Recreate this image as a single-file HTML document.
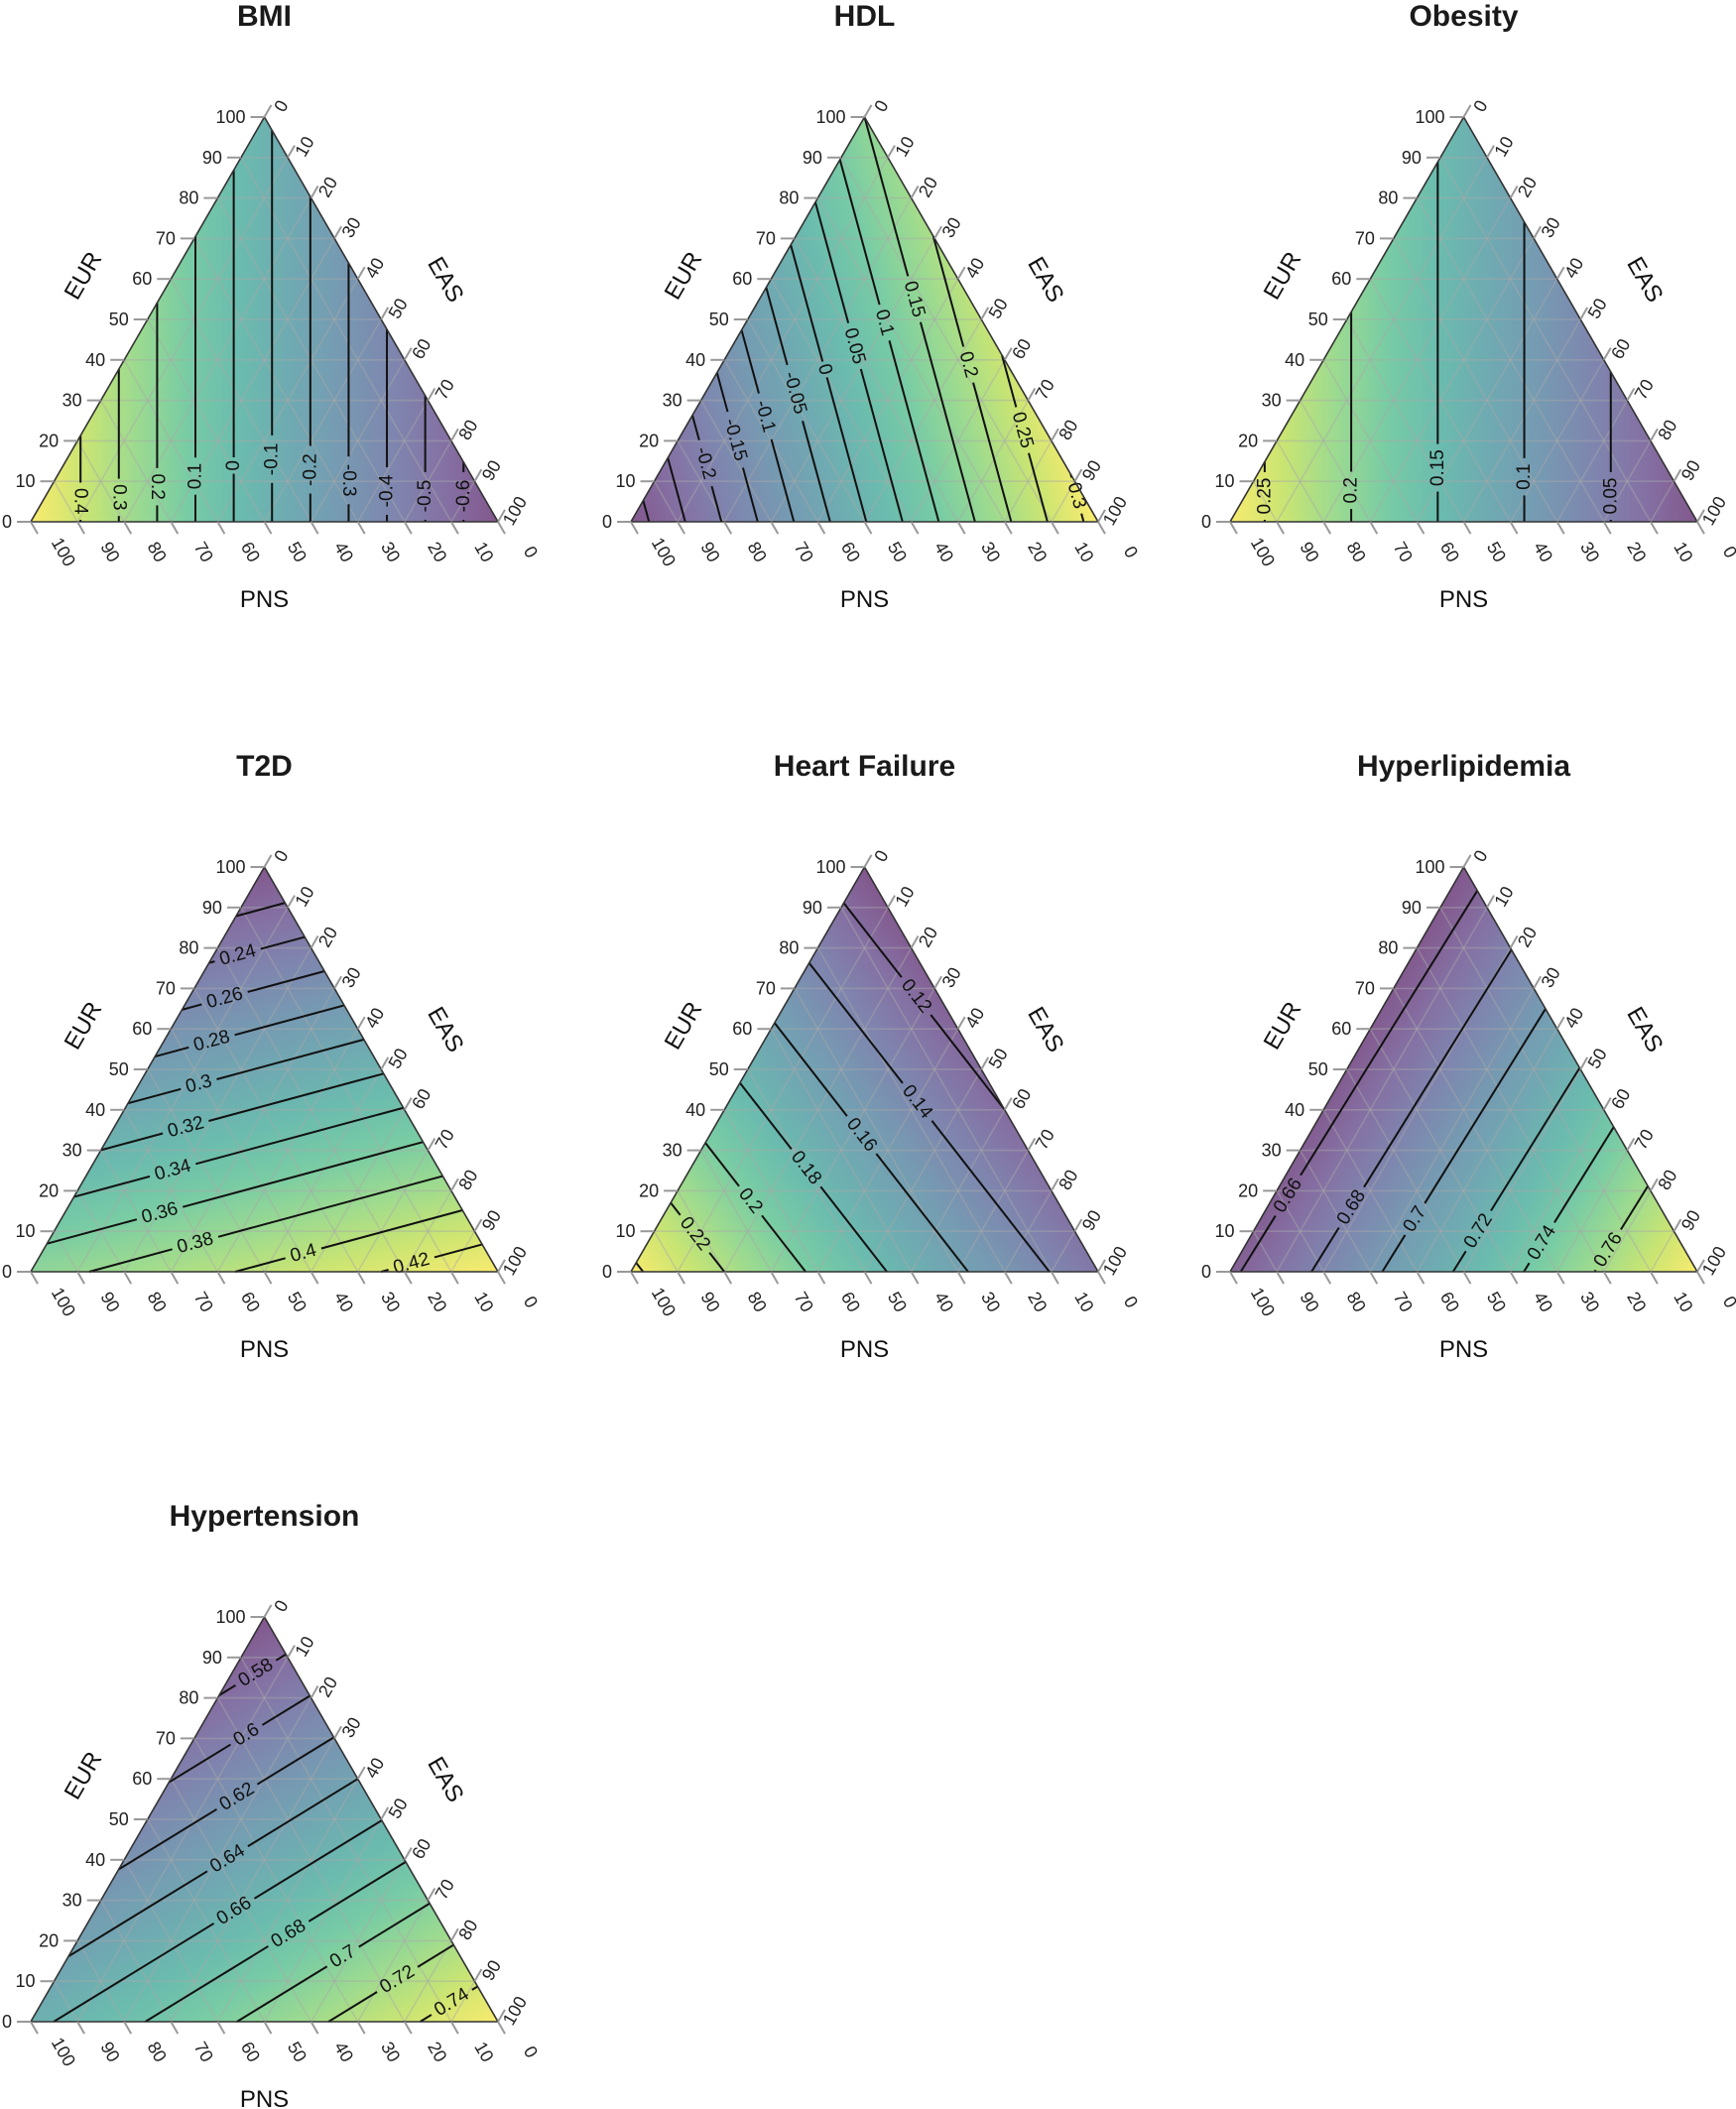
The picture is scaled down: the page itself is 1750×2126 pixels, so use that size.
<!DOCTYPE html>
<html><head><meta charset="utf-8">
<style>
html,body{margin:0;padding:0;background:#fff;}
svg{display:block;font-family:"Liberation Sans",Arial,sans-serif;}
</style></head>
<body>
<svg id="chart" width="1750" height="2126" viewBox="0 0 1750 2126" xmlns="http://www.w3.org/2000/svg"></svg>
<script>
// ---- data ----
const titles = ["BMI","HDL","Obesity","T2D","Heart Failure","Hyperlipidemia","Hypertension"];
// field value at the EUR (top), PNS (bottom-left), EAS (bottom-right) vertices
const valEUR = [-0.08, 0.15, 0.135, 0.199, 0.108, 0.652, 0.562];
const valPNS = [0.53, -0.325, 0.27, 0.372, 0.243, 0.657, 0.655];
const valEAS = [-0.69, 0.32, 0.0, 0.436, 0.128, 0.789, 0.757];
const levelsBMI = [0.4,0.3,0.2,0.1,0,-0.1,-0.2,-0.3,-0.4,-0.5,-0.6];
const levelsHDL = [-0.3,-0.25,-0.2,-0.15,-0.1,-0.05,0,0.05,0.1,0.15,0.2,0.25,0.3];
const levelsObesity = [0.25,0.2,0.15,0.1,0.05];
const levelsT2D = [0.22,0.24,0.26,0.28,0.3,0.32,0.34,0.36,0.38,0.4,0.42];
const levelsHF = [0.12,0.14,0.16,0.18,0.2,0.22,0.24];
const levelsHyperlip = [0.66,0.68,0.7,0.72,0.74,0.76];
const levelsHypert = [0.58,0.6,0.62,0.64,0.66,0.68,0.7,0.72,0.74];
const levelLabels = [
  ["0.4","0.3","0.2","0.1","0","-0.1","-0.2","-0.3","-0.4","-0.5","-0.6"],
  ["","","-0.2","-0.15","-0.1","-0.05","0","0.05","0.1","0.15","0.2","0.25","0.3"],
  ["0.25","0.2","0.15","0.1","0.05"],
  ["0.22","0.24","0.26","0.28","0.3","0.32","0.34","0.36","0.38","0.4","0.42"],
  ["0.12","0.14","0.16","0.18","0.2","0.22",""],
  ["0.66","0.68","0.7","0.72","0.74","0.76"],
  ["0.58","0.6","0.62","0.64","0.66","0.68","0.7","0.72","0.74"]
];
const allLevels = [levelsBMI,levelsHDL,levelsObesity,levelsT2D,levelsHF,levelsHyperlip,levelsHypert];
const tickValues = [0,10,20,30,40,50,60,70,80,90,100];

// ---- layout ----
const W = 471, H = 408;
const colX = [31, 636, 1240], rowBase = [526, 1282, 2038];
const labelT = [0.16, 0.55, 0.15, 0.3, 0.45, 0.2, 0.55];
const viridis = ["#440154","#482878","#3e4989","#31688e","#26828e","#1f9e89","#35b779","#6ece58","#b5de2b","#fde725"];
const NS = "http://www.w3.org/2000/svg";
const svg = document.getElementById("chart");
const defs = document.createElementNS(NS,"defs");
svg.appendChild(defs);
function mk(tag, attrs, parent){
  const e = document.createElementNS(NS, tag);
  for (const k in attrs) e.setAttribute(k, attrs[k]);
  (parent||svg).appendChild(e);
  return e;
}

titles.forEach((title, i) => {
  const x0 = colX[i % 3], y0 = rowBase[Math.floor(i / 3)];
  const L = [x0, y0], R = [x0 + W, y0], T = [x0 + W/2, y0 - H];
  const vT = valEUR[i], vL = valPNS[i], vR = valEAS[i];
  const g = mk("g", {});
  
  

  const tt = mk("text", {x: x0 + W/2, y: y0 - H - 92, "text-anchor": "middle", "font-size": 30, "font-weight": "bold", fill: "#1a1a1a"}, g);
  tt.textContent = title;
  
  

  // gradient
  const gx = (vR - vL) / W;
  const gy = (vL + gx * W/2 - vT) / H;
  const g2 = gx*gx + gy*gy;
  const fmin = Math.min(vT, vL, vR), fmax = Math.max(vT, vL, vR);
  const p1 = [L[0] + gx*(fmin - vL)/g2, L[1] + gy*(fmin - vL)/g2];
  const p2 = [L[0] + gx*(fmax - vL)/g2, L[1] + gy*(fmax - vL)/g2];
  const grad = mk("linearGradient", {id: "grad" + i, gradientUnits: "userSpaceOnUse", x1: p1[0], y1: p1[1], x2: p2[0], y2: p2[1]}, defs);
  viridis.forEach((c, k) => mk("stop", {offset: k/(viridis.length-1), "stop-color": c, "stop-opacity": 0.64}, grad));
  mk("polygon", {points: [L, R, T].map(p => p.join(",")).join(" "), fill: "#8a8a8a", "fill-opacity": 0.12}, g);
  const tri = mk("polygon", {points: [L, R, T].map(p => p.join(",")).join(" "), fill: "url(#grad" + i + ")"}, g);
  
  

  // grid lines
  const bary = (e, p, s) => [L[0]*p + R[0]*s + T[0]*e, L[1]*p + R[1]*s + T[1]*e];
  for (let k = 1; k < 10; k++) {
    const f = k / 10;
    [[bary(f,1-f,0), bary(f,0,1-f)], [bary(0,f,1-f), bary(1-f,f,0)], [bary(0,1-f,f), bary(1-f,0,f)]].forEach(seg => {
      const gl = mk("line", {x1: seg[0][0], y1: seg[0][1], x2: seg[1][0], y2: seg[1][1], stroke: "#a8a8a8", "stroke-opacity": 0.45, "stroke-width": 1.6}, g);
      
      
    });
  }

  // contours
  const levels = allLevels[i];
  const verts = [[L, vL], [R, vR], [T, vT]];
  levels.forEach((lv, j) => {
    const pts = [];
    for (let a = 0; a < 3; a++) {
      const A = verts[a], B = verts[(a+1)%3];
      const d = B[1] - A[1];
      if (Math.abs(d) < 1e-12) continue;
      const t = (lv - A[1]) / d;
      if (t >= -1e-9 && t <= 1 + 1e-9) pts.push([A[0][0] + t*(B[0][0]-A[0][0]), A[0][1] + t*(B[0][1]-A[0][1])]);
    }
    if (pts.length < 2) return;
    let a = pts[0], b = pts[1];
    const vertical = Math.abs(a[0]-b[0]) < Math.abs(a[1]-b[1]) * 0.3;
    if (vertical ? a[1] < b[1] : a[0] > b[0]) { const tmp = a; a = b; b = tmp; }
    const len = Math.hypot(b[0]-a[0], b[1]-a[1]);
    if (len < 1) return;
    const ux = (b[0]-a[0])/len, uy = (b[1]-a[1])/len;
    const lab = levelLabels[i][j];
    const tw = lab.length * 10.5 + 6;
    const cg = mk("g", {}, g);
    
    
    let ang = Math.atan2(uy, ux) * 180 / Math.PI;
    if (ang > 90) ang -= 180; if (ang < -90) ang += 180;
    if (lab && len > tw + 6) {
      let c = labelT[i] * len;
      c = Math.max(tw/2 + 2, Math.min(len - tw/2 - 2, c));
      const c1 = c - tw/2, c2 = c + tw/2;
      mk("line", {x1: a[0], y1: a[1], x2: a[0]+ux*c1, y2: a[1]+uy*c1, stroke: "#111", "stroke-width": 2}, cg);
      mk("line", {x1: a[0]+ux*c2, y1: a[1]+uy*c2, x2: b[0], y2: b[1], stroke: "#111", "stroke-width": 2}, cg);
      const cx = a[0] + ux*c, cy = a[1] + uy*c;
      const tx = mk("text", {x: cx, y: cy, "text-anchor": "middle", "dominant-baseline": "central", "font-size": 19, fill: "#111", transform: "rotate(" + ang + " " + cx + " " + cy + ")"}, cg);
      tx.textContent = lab;
    } else {
      mk("line", {x1: a[0], y1: a[1], x2: b[0], y2: b[1], stroke: "#111", "stroke-width": 2}, cg);
    }
  });

  const ol = mk("polygon", {points: [L, R, T].map(p => p.join(",")).join(" "), fill: "none", stroke: "#333", "stroke-width": 1.6}, g);
  
  

  // ticks
  const TL = 14;
  tickValues.forEach(v => {
    const f = v / 100;
    const pl = bary(f, 1-f, 0);
    mk("line", {x1: pl[0], y1: pl[1], x2: pl[0]-TL, y2: pl[1], stroke: "#999", "stroke-width": 2}, g);
    const tl = mk("text", {x: pl[0]-TL-5, y: pl[1]+6, "text-anchor": "end", "font-size": 18, fill: "#222"}, g);
    tl.textContent = v;
    
    
    const pr = bary(1-f, 0, f);
    const dx = 0.5, dy = -0.866;
    mk("line", {x1: pr[0], y1: pr[1], x2: pr[0]+dx*TL, y2: pr[1]+dy*TL, stroke: "#999", "stroke-width": 2}, g);
    const rx = pr[0] + dx*22 + 6, ry = pr[1] + dy*22 + 8;
    const trl = mk("text", {x: rx, y: ry, "text-anchor": "middle", "dominant-baseline": "central", "font-size": 18, fill: "#222", transform: "rotate(-60 " + rx + " " + ry + ")"}, g);
    trl.textContent = v;
    
    
    const pb = bary(0, f, 1-f);
    const bx = 0.5, by = 0.866;
    mk("line", {x1: pb[0], y1: pb[1], x2: pb[0]+bx*TL, y2: pb[1]+by*TL, stroke: "#999", "stroke-width": 2}, g);
    const lx = pb[0] + bx*34 + 16, ly = pb[1] + by*34 + 1;
    const tb = mk("text", {x: lx, y: ly, "text-anchor": "middle", "dominant-baseline": "central", "font-size": 18, fill: "#222", transform: "rotate(60 " + lx + " " + ly + ")"}, g);
    tb.textContent = v;
    
    
  });

  const ex = x0 + 53, ey = y0 - 248;
  const eur = mk("text", {x: ex, y: ey, "text-anchor": "middle", "dominant-baseline": "central", "font-size": 24, fill: "#111", transform: "rotate(-60 " + ex + " " + ey + ")"}, g);
  eur.textContent = "EUR";
  
  
  const sx = x0 + 418, sy = y0 - 244;
  const eas = mk("text", {x: sx, y: sy, "text-anchor": "middle", "dominant-baseline": "central", "font-size": 24, fill: "#111", transform: "rotate(60 " + sx + " " + sy + ")"}, g);
  eas.textContent = "EAS";
  
  
  const pns = mk("text", {x: x0 + W/2, y: y0 + 86, "text-anchor": "middle", "font-size": 24, fill: "#111"}, g);
  pns.textContent = "PNS";
  
  
});
</script>
</body></html>
